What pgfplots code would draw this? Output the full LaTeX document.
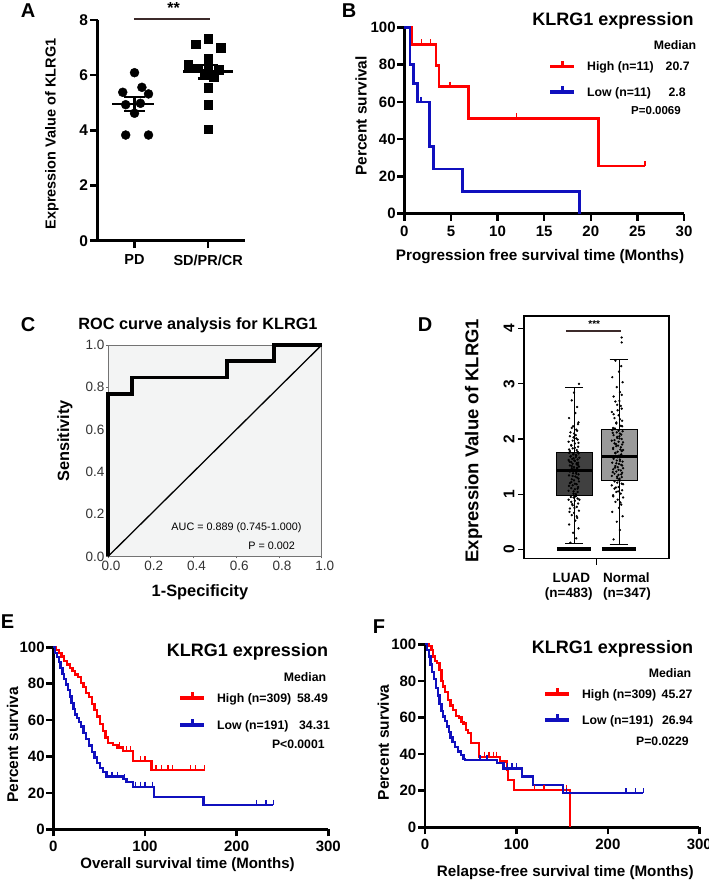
\documentclass[border=0pt]{standalone}
\usepackage{pgfplots}
\pgfplotsset{compat=1.18}
\usepgfplotslibrary{statistics}
\usepackage{fontspec}
\setmainfont{Liberation Sans}
\newcommand\fsz[1]{\fontsize{#1bp}{#1bp}\selectfont}
\newcommand\bnum{\textbf{\pgfmathprintnumber[assume math mode=true]{\tick}}}
\newcommand\lent[3]{\makebox[#1bp][l]{#2}#3}
\definecolor{kmred}{RGB}{255,0,0}
\definecolor{kmblue}{RGB}{16,16,190}
\definecolor{rocbg}{RGB}{243,244,244}
\definecolor{sigbar}{RGB}{60,42,42}
\definecolor{luadgray}{RGB}{64,64,64}
\definecolor{normgray}{RGB}{154,154,154}

\pgfplotsset{
  legend image code/.code={%
    \draw[#1, line width=3.8bp] (0bp,0.8bp) -- (24bp,0.8bp);
    \draw[#1, line width=3bp] (12bp,0.8bp) -- (12bp,6.6bp);},
  km/.style={scale only axis, axis lines=left,
    axis line style={-, line width=2.5bp},
    tick style={black, line width=2.5bp}, tick align=outside,
    major tick length=7bp,
    tick label style={font=\fsz{15}, inner sep=1.5bp},
    xticklabel={\bnum}, yticklabel={\bnum},
    clip=false, legend cell align=left, ymin=0, ymax=100,
    ytick={0,20,...,100}},
  kmleg/.style={legend style={draw=none, fill=none, inner sep=0pt,
    outer sep=0pt, anchor=north west, font=\fsz{12.3}\bfseries,
    nodes={inner sep=0pt, outer sep=0pt, text height=10.2bp, text depth=3bp},
    /tikz/every odd column/.append style={column sep=11bp}}},
  cens/.style={only marks, mark=|, mark size=2.5bp,
    mark options={yshift=2.5bp, line width=1.4bp}, forget plot}
}

\begin{document}
\begin{tikzpicture}
\path[use as bounding box] (0,0) rectangle (709bp,884bp);

% ---------------- A: dot plot
\begin{axis}[at={(97.7bp,643.3bp)}, anchor=south west,
  scale only axis, width=147.3bp, height=220.7bp,
  axis lines=left, axis line style={-, line width=2.6bp},
  tick style={black, line width=2.6bp}, tick align=outside,
  major tick length=7.5bp,
  xmin=0, xmax=2, ymin=0, ymax=8,
  xtick={0.5,1.5}, xticklabels={PD,SD/PR/CR},
  ytick={0,2,4,6,8}, yticklabel={\bnum},
  yticklabel style={font=\fsz{15.5}, inner sep=2bp},
  xticklabel style={font=\fsz{14.5}\bfseries, inner sep=6.5bp},
  clip=false]
\addplot[only marks, mark=*, mark size=4.5bp, black] coordinates {
  (0.50,6.09) (0.34,5.38) (0.60,5.56) (0.69,5.32) (0.38,4.93)
  (0.58,4.98) (0.50,4.62) (0.38,3.83) (0.69,3.83)};
\addplot[only marks, mark=square*, mark size=4.4bp, black] coordinates {
  (1.50,7.31) (1.33,7.12) (1.67,7.00) (1.50,6.61) (1.23,6.37)
  (1.50,6.30) (1.36,6.25) (1.64,6.19) (1.45,6.05) (1.58,5.95)
  (1.50,5.56) (1.50,4.94) (1.50,4.04)};
\addplot[black, line width=2.5bp] coordinates {(0.20,4.95) (0.76,4.95)};
\addplot[black, line width=2.2bp] coordinates {(0.5,4.70) (0.5,5.20)};
\addplot[black, line width=2.2bp] coordinates {(0.36,5.20) (0.64,5.20)};
\addplot[black, line width=2.2bp] coordinates {(0.36,4.70) (0.64,4.70)};
\addplot[black, line width=2.5bp] coordinates {(1.16,6.13) (1.84,6.13)};
\addplot[black, line width=2.2bp] coordinates {(1.5,5.88) (1.5,6.38)};
\addplot[black, line width=2.2bp] coordinates {(1.36,6.38) (1.64,6.38)};
\addplot[black, line width=2.2bp] coordinates {(1.36,5.88) (1.64,5.88)};
\addplot[sigbar, line width=2.5bp] coordinates {(0.49,8.04) (1.52,8.04)};
\node[font=\fsz{16}\bfseries] at (axis cs:1.03,8.45) {**};
\end{axis}

% ---------------- B: PFS Kaplan-Meier
\begin{axis}[km, kmleg, at={(404.3bp,670.3bp)}, anchor=south west,
  width=279.7bp, height=186.4bp,
  xmin=0, xmax=30, xtick={0,5,...,30},
  xticklabel style={inner sep=5bp},
  legend style={at={(0.515,0.829)}, row sep=11.1bp}]
\addplot[kmred, line width=2.6bp, const plot] coordinates {
  (0,100) (0.8,90.9) (3.4,79.5) (3.7,68.2) (6.86,51.1) (20.8,25.6) (25.8,25.6)};
\addlegendentry{\lent{78.6}{High (n=11)}{20.7}}
\addplot[kmblue, line width=2.6bp, const plot] coordinates {
  (0,100) (0.6,80) (0.97,70) (1.43,60) (2.68,36) (3.1,24) (6.26,12) (18.77,0)};
\addlegendentry{\lent{81.5}{Low (n=11)}{2.8}}
\addplot[kmred, cens] coordinates {(1.86,90.9) (2.82,90.9) (4.9,68.2) (12.05,51.1) (25.8,25.6)};
\addplot[kmblue, cens] coordinates {(1.8,60)};
\end{axis}

% ---------------- C: ROC
\begin{axis}[at={(108bp,327.5bp)}, anchor=south west,
  scale only axis, width=213.7bp, height=211.5bp,
  xmin=0, xmax=1, ymin=0, ymax=1,
  xtick={0,0.2,...,1}, ytick={0,0.2,...,1},
  axis background/.style={fill=rocbg},
  axis line style={draw=black!55, line width=0.9bp},
  tick pos=left, tick align=outside, major tick length=2bp,
  tick style={black!60, line width=0.8bp},
  xticklabel={\textnormal{\pgfmathprintnumber[assume math mode=true,fixed,fixed zerofill,precision=1]{\tick}}},
  yticklabel={\textnormal{\pgfmathprintnumber[assume math mode=true,fixed,fixed zerofill,precision=1]{\tick}}},
  tick label style={font=\fsz{13.5}, text=black!80, inner sep=1.5bp},
  xticklabel style={xshift=3bp, inner sep=2.5bp},
  clip=false]
\addplot[black, line width=1.3bp] coordinates {(0,0) (1,1)};
\addplot[black, line width=3.8bp] coordinates {
  (0,0) (0,0.769) (0.111,0.769) (0.111,0.846) (0.556,0.846)
  (0.556,0.923) (0.778,0.923) (0.778,1) (1,1)};
\end{axis}

% ---------------- D: box plot
\begin{axis}[at={(524bp,325.3bp)}, anchor=south west,
  scale only axis, width=145bp, height=242.7bp,
  xmin=-0.111, xmax=3.111, ymin=-0.17, ymax=4.23,
  axis line style={line width=1.2bp},
  tick pos=left, tick align=outside, major tick length=6bp,
  tick style={black, line width=1.2bp},
  xtick={1.5}, xticklabels={}, ytick={0,1,2,3,4},
  yticklabel={\bnum},
  yticklabel style={rotate=90, anchor=south, font=\fsz{15.5}},
  boxplot/draw direction=y,
  boxplot/every median/.style={line width=3.5bp},
  clip=false]
\addplot[boxplot prepared={lower whisker=0.11, lower quartile=0.97,
  median=1.43, upper quartile=1.76, upper whisker=2.93,
  draw position=1, box extend=0.8, whisker extend=0.4},
  draw=black, fill=luadgray, line width=1bp] coordinates {};
\addplot[boxplot prepared={lower whisker=0.08, lower quartile=1.25,
  median=1.68, upper quartile=2.17, upper whisker=3.44,
  draw position=2, box extend=0.8, whisker extend=0.42},
  draw=black, fill=normgray, line width=1bp] coordinates {};
\addplot[black, line width=4bp] coordinates {(0.62,0) (1.38,0)};
\addplot[black, line width=4bp] coordinates {(1.62,0) (2.38,0)};
% LUAD (n=483), a hand-read selection of its points
\addplot[only marks, mark=*, mark size=0.95bp, black] coordinates {
  (0.92,0.12) (1.05,0.2) (0.98,0.3) (1.10,0.38) (0.89,0.45)
  (1.03,0.52) (1.07,0.57) (0.95,0.62) (1.00,0.66) (1.11,0.7)
  (0.91,0.74) (1.06,0.77) (0.97,0.8) (1.09,0.83) (0.94,0.86)
  (1.02,0.88) (0.88,0.9) (1.08,0.92) (0.99,0.94) (1.04,0.96)
  (1.04,0.99) (0.99,1.01) (1.08,1.04) (0.88,1.06) (1.02,1.09)
  (0.94,1.11) (1.09,1.13) (0.97,1.16) (1.06,1.18) (0.91,1.2)
  (1.11,1.23) (1.00,1.25) (0.95,1.27) (1.07,1.3) (1.03,1.32)
  (0.89,1.34) (1.10,1.36) (0.98,1.38) (1.05,1.4) (0.92,1.42)
  (1.03,1.44) (1.07,1.46) (0.95,1.47) (1.00,1.49) (1.11,1.5)
  (0.91,1.52) (1.06,1.54) (0.97,1.55) (1.09,1.57) (0.94,1.58)
  (1.02,1.6) (0.88,1.62) (1.08,1.63) (0.99,1.65) (1.04,1.67)
  (0.92,1.68) (1.05,1.7) (0.98,1.72) (1.10,1.74) (0.89,1.75)
  (0.91,1.78) (1.06,1.8) (0.97,1.83) (1.09,1.86) (0.94,1.89)
  (1.02,1.92) (0.88,1.95) (1.08,1.99) (0.99,2.03) (1.04,2.07)
  (0.92,2.12) (1.05,2.17) (0.98,2.23) (1.10,2.3) (0.89,2.38)
  (1.03,2.47) (1.07,2.58) (0.95,2.7) (1.00,2.84) (1.11,3.0)
  (1.06,0.6) (0.90,0.68) (1.01,0.75) (0.96,0.82) (1.12,0.9)
  (0.93,0.95) (1.04,1.0) (0.99,1.05) (1.08,1.1) (0.89,1.15)
  (1.02,1.19) (0.94,1.22) (1.10,1.28) (0.97,1.33) (1.05,1.37)
  (0.91,1.41) (1.00,1.45) (1.07,1.48) (0.95,1.51) (1.09,1.53)
  (1.06,1.56) (0.90,1.59) (1.01,1.61) (0.96,1.64) (1.12,1.66)
  (0.93,1.69) (1.04,1.71) (0.99,1.73) (1.08,1.77) (0.89,1.81)
  (1.02,1.84) (0.94,1.88) (1.10,1.93) (0.97,1.97) (1.05,2.01)
  (0.91,2.05) (1.00,2.1) (1.07,2.15) (0.95,2.2) (1.09,2.27)};
% Normal (n=347)
\addplot[only marks, mark=*, mark size=0.95bp, black] coordinates {
  (1.88,0.18) (2.02,0.35) (1.95,0.5) (2.08,0.6) (1.85,0.68)
  (2.00,0.75) (2.05,0.81) (1.92,0.86) (1.97,0.9) (2.09,0.94)
  (1.87,0.98) (2.04,1.01) (1.94,1.04) (2.07,1.07) (1.90,1.1)
  (1.99,1.13) (1.84,1.16) (2.06,1.19) (1.96,1.21) (2.01,1.24)
  (2.01,1.27) (1.96,1.29) (2.06,1.31) (1.84,1.33) (1.99,1.35)
  (1.90,1.37) (2.07,1.39) (1.94,1.41) (2.04,1.43) (1.87,1.45)
  (2.09,1.47) (1.97,1.49) (1.92,1.51) (2.05,1.53) (2.00,1.55)
  (1.85,1.57) (2.08,1.59) (1.95,1.61) (2.02,1.63) (1.88,1.66)
  (2.00,1.7) (2.05,1.72) (1.92,1.75) (1.97,1.77) (2.09,1.8)
  (1.87,1.82) (2.04,1.85) (1.94,1.87) (2.07,1.9) (1.90,1.92)
  (1.99,1.95) (1.84,1.97) (2.06,2.0) (1.96,2.02) (2.01,2.05)
  (1.88,2.07) (2.02,2.1) (1.95,2.12) (2.08,2.14) (1.85,2.16)
  (1.87,2.2) (2.04,2.24) (1.94,2.28) (2.07,2.33) (1.90,2.38)
  (1.99,2.43) (1.84,2.49) (2.06,2.55) (1.96,2.62) (2.01,2.69)
  (1.88,2.77) (2.02,2.85) (1.95,2.94) (2.08,3.03) (1.85,3.12)
  (2.00,3.22) (2.05,3.32) (1.92,3.42) (2.06,3.75) (2.06,3.84)
  (2.03,0.85) (1.87,0.96) (1.98,1.05) (1.93,1.12) (2.09,1.18)
  (1.90,1.23) (2.01,1.28) (1.96,1.32) (2.05,1.36) (1.86,1.4)
  (1.99,1.44) (1.91,1.48) (2.07,1.52) (1.94,1.56) (2.02,1.6)
  (1.88,1.64) (1.97,1.67) (2.04,1.71) (1.92,1.74) (2.06,1.78)
  (2.03,1.81) (1.87,1.84) (1.98,1.88) (1.93,1.91) (2.09,1.94)
  (1.90,1.98) (2.01,2.01) (1.96,2.04) (2.05,2.08) (1.86,2.11)
  (1.99,2.15) (1.91,2.19) (2.07,2.23) (1.94,2.3) (2.02,2.36)
  (1.88,2.45) (1.97,2.52) (2.04,2.6) (1.92,2.68) (2.06,2.8)};
\addplot[sigbar, line width=1.8bp] coordinates {(0.82,3.96) (2.04,3.96)};
\node[font=\fsz{10}\bfseries] at (axis cs:1.45,4.08) {***};
\end{axis}

% ---------------- E: OS Kaplan-Meier
\begin{axis}[km, kmleg, at={(53.3bp,54.7bp)}, anchor=south west,
  width=275bp, height=182bp,
  xmin=0, xmax=300, xtick={0,100,200,300},
  xticklabel style={inner sep=5bp},
  legend style={at={(0.4545,0.7604)}, row sep=11.8bp}]
\addplot[kmred, line width=2.3bp, const plot] coordinates {
  (0,100) (3,98.5) (6,97) (9,95) (12,92.5) (15,90.5) (18,88.5) (21,86.8)
  (24,85) (27,83.5) (30,80.5) (33,78) (36,75) (39,72.5) (42,69) (45,65.5)
  (48,62) (51,58) (54,54) (57,50.5) (60,47.5) (65,46.5) (70,45) (76,43)
  (87,37.5) (107,32.5) (165,32.5)};
\addlegendentry{\lent{80}{High (n=309)}{58.49}}
\addplot[kmblue, line width=2.3bp, const plot] coordinates {
  (0,100) (2,97) (4,94.5) (6,92) (8,88.5) (10,85.5) (12,82.5) (14,79.5)
  (16,76.5) (18,73) (20,69.5) (22,66) (24,63) (26,61) (28,59) (30,56.5)
  (33,53) (36,49.5) (39,46) (42,42.5) (45,39.5) (48,36.5) (51,33.5)
  (54,31.5) (58,29) (76,27.5) (80,25.8) (87,23.4) (110,17.9) (164,13.4)
  (240,13.4)};
\addlegendentry{\lent{82}{Low (n=191)}{34.31}}
\addplot[kmred, cens] coordinates {(72,45) (80,43) (84,43) (95,37.5) (100,37.5)
  (112,32.5) (118,32.5) (125,32.5) (130,32.5) (150,32.5) (155,32.5) (165,32.5)};
\addplot[kmblue, cens] coordinates {(64,29) (70,29) (78,27.5) (90,23.4) (95,23.4)
  (100,23.4) (108,23.4) (222,13.4) (232,13.4) (240,13.4)};
\end{axis}

% ---------------- F: RFS Kaplan-Meier
\begin{axis}[km, kmleg, at={(425bp,56.7bp)}, anchor=south west,
  width=274.3bp, height=183bp,
  xmin=0, xmax=300, xtick={0,100,200,300},
  xticklabel style={inner sep=5bp},
  legend style={at={(0.431,0.767)}, row sep=10.8bp}]
\addplot[kmred, line width=2.3bp, const plot] coordinates {
  (0,100) (4,99) (7,97) (9,93.3) (11,91) (13,89.6) (16,86) (18,80) (20,76.9)
  (22,74) (25,69.6) (28,66.5) (31,64) (34,61) (37,60) (40,57.5) (42,56.8)
  (45,53) (47,51.4) (50,46) (59.4,38.6) (82,35.9) (89.3,31.3) (91.1,25.9)
  (97,20.4) (158.6,0)};
\addlegendentry{\lent{79.7}{High (n=309)}{45.27}}
\addplot[kmblue, line width=2.3bp, const plot] coordinates {
  (0,100) (2,97) (4,93.3) (6,89) (8,85) (10,81) (12,76) (14,72) (16,67.5)
  (18,63.5) (20,60.5) (22,58) (24,55) (26,52) (28,49) (30,46.5) (33,44)
  (36,41.5) (39,39.5) (42,37.5) (44,36.8) (78.4,35) (85.7,32.2)
  (105.7,27.7) (117.8,23.1) (150.6,18.6) (238.8,18.6)};
\addlegendentry{\lent{80}{Low (n=191)}{26.94}}
\addplot[kmred, cens] coordinates {(65,38.6) (70,38.6) (75,38.6) (78,38.6)
  (120,20.4) (130,20.4) (155,20.4)};
\addplot[kmblue, cens] coordinates {(60,36.8) (68,36.8) (90,32.2) (95,32.2)
  (100,32.2) (155,18.6) (220,18.6) (230,18.6) (238.8,18.6)};
\end{axis}

% ---------------- texts, in picture pixels from the top left
\begin{scope}[x=1bp, y=-1bp, yshift=884bp]
\node[font=\fsz{20}\bfseries] at (28,11) {A};
\node[font=\fsz{20}\bfseries] at (349,11) {B};
\node[font=\fsz{20}\bfseries] at (28,325) {C};
\node[font=\fsz{20}\bfseries] at (425,325) {D};
\node[font=\fsz{20}\bfseries] at (7.5,621.5) {E};
\node[font=\fsz{20}\bfseries] at (379,626.5) {F};
% A
\node[rotate=90, font=\fsz{14.5}\bfseries] at (52,134) {Expression Value of KLRG1};
% B
\node[font=\fsz{18}\bfseries] at (613,21) {KLRG1 expression};
\node[font=\fsz{12.3}\bfseries] at (675,45) {Median};
\node[font=\fsz{11.5}\bfseries] at (656,111) {P=0.0069};
\node[font=\fsz{15.3}\bfseries] at (540,257) {Progression free survival time (Months)};
\node[rotate=90, font=\fsz{15.5}\bfseries] at (361,116) {Percent survival};
% C
\node[font=\fsz{16.3}\bfseries] at (198,325) {ROC curve analysis for KLRG1};
\node[rotate=90, font=\fsz{16.3}\bfseries] at (65,441) {Sensitivity};
\node[font=\fsz{16.4}\bfseries] at (200,592) {1-Specificity};
\node[anchor=east, font=\fsz{10.8}] at (305,528) {AUC = 0.889 (0.745-1.000)};
\node[anchor=east, font=\fsz{10.8}] at (298.5,546) {P = 0.002};
% D
\node[rotate=90, font=\fsz{18.5}\bfseries] at (473.5,440.7) {Expression Value of KLRG1};
\node[font=\fsz{13.5}\bfseries] at (571.3,578) {LUAD};
\node[font=\fsz{13.5}\bfseries] at (626.3,578) {Normal};
\node[font=\fsz{13.5}\bfseries] at (568.7,594) {(n=483)};
\node[font=\fsz{13.5}\bfseries] at (627,594) {(n=347)};
% E
\node[font=\fsz{18}\bfseries] at (247.5,652) {KLRG1 expression};
\node[font=\fsz{12.3}\bfseries] at (305,676.7) {Median};
\node[font=\fsz{12.2}\bfseries] at (298.3,744) {P<0.0001};
\node[font=\fsz{15}\bfseries] at (187.5,865) {Overall survival time (Months)};
\node[rotate=90, font=\fsz{15.5}\bfseries] at (12.7,745) {Percent surviva};
% F
\node[font=\fsz{18}\bfseries] at (612.5,649) {KLRG1 expression};
\node[font=\fsz{12.3}\bfseries] at (670,672.7) {Median};
\node[font=\fsz{12.2}\bfseries] at (662.5,741.7) {P=0.0229};
\node[font=\fsz{15.2}\bfseries] at (565.3,872.7) {Relapse-free survival time (Months)};
\node[rotate=90, font=\fsz{15.5}\bfseries] at (383.3,742.3) {Percent surviva};
\end{scope}
\end{tikzpicture}
\end{document}
